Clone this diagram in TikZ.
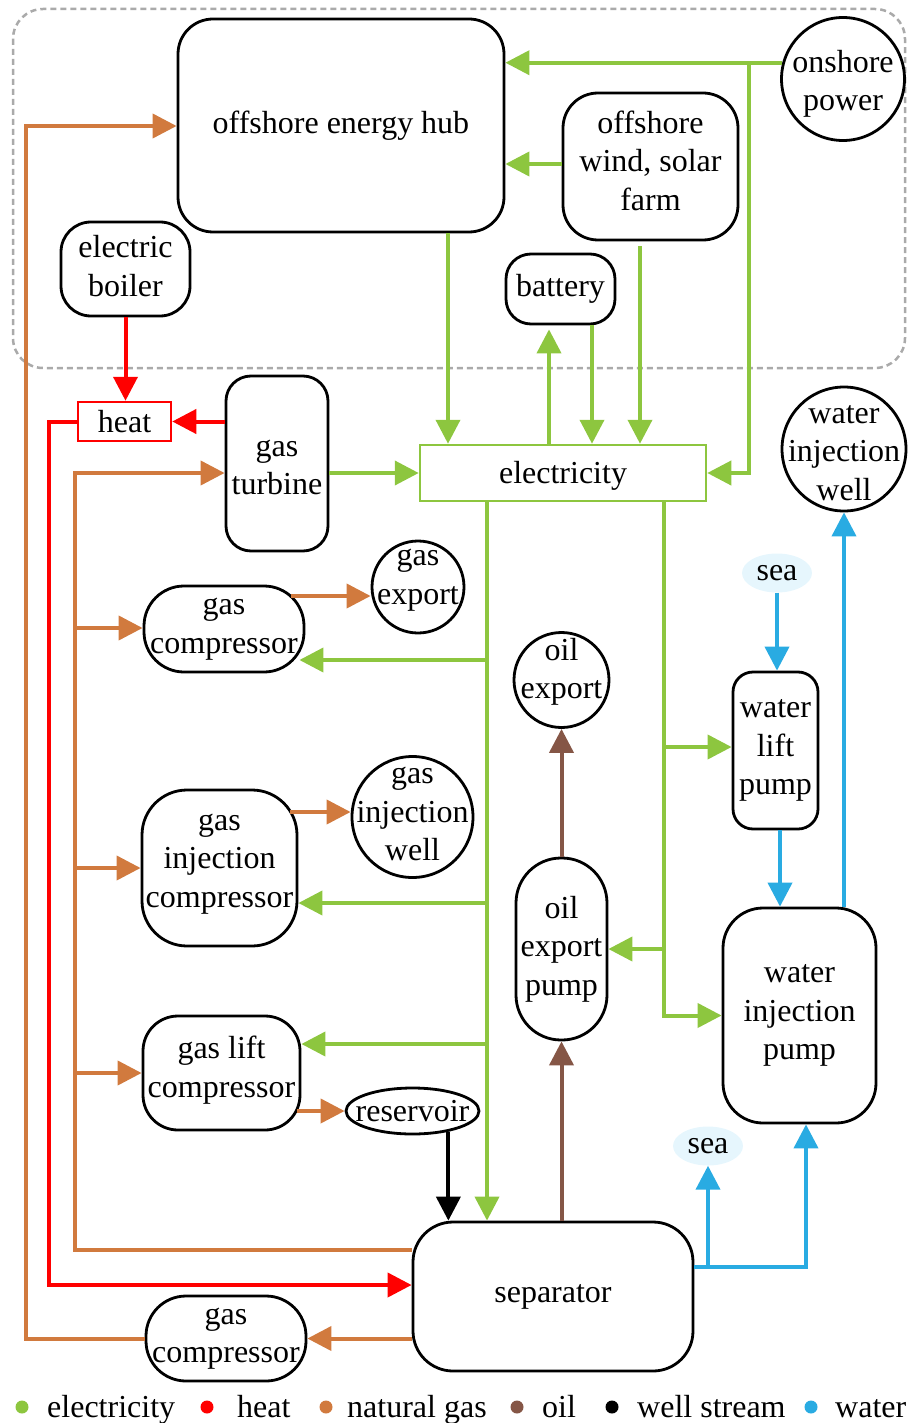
\documentclass[tikz,border=0pt]{standalone}
\usepackage{fontspec}
\setmainfont{Liberation Serif}
\usetikzlibrary{arrows.meta,shapes.geometric,calc}
\definecolor{cel}{RGB}{141,198,63}
\definecolor{cht}{RGB}{255,0,0}
\definecolor{cng}{RGB}{209,122,62}
\definecolor{coil}{RGB}{133,86,70}
\definecolor{cwt}{RGB}{41,171,226}
\definecolor{csea}{RGB}{230,246,253}
\definecolor{cdash}{RGB}{170,170,170}
\newcommand\diagfont{\fontsize{32}{38.4}\selectfont}
\tikzset{
  flow/.style={line width=4pt, -{Triangle[length=24pt,width=24pt]}, line join=miter},
  el/.style={flow, draw=cel},
  ht/.style={flow, draw=cht},
  ng/.style={flow, draw=cng},
  oilf/.style={flow, draw=coil},
  wsf/.style={flow, draw=black},
  wt/.style={flow, draw=cwt},
  box/.style={draw, line width=2.8pt, align=center, inner sep=0pt, font=\diagfont, fill=white},
  rb/.style={box, rectangle, rounded corners=#1},
  rb/.default=30pt,
  circ/.style={box, circle},
  lab/.style={align=center, inner sep=0pt, font=\diagfont},
  seanode/.style={ellipse, fill=csea, inner sep=0pt, font=\diagfont, minimum width=70pt, minimum height=39pt},
  legtext/.style={anchor=base west, inner sep=0pt, font=\diagfont}
}
\begin{document}
\begin{tikzpicture}[x=1pt,y=-1pt]
\useasboundingbox (0,0) rectangle (907,1423);
\draw[cdash, line width=2.5pt, dash pattern=on 6pt off 4pt, rounded corners=30pt] (13,9) rectangle (905,368);

% nodes
\node[rb=35pt, minimum width=326pt, minimum height=213pt] (hub) at (341,125.5) {offshore energy hub};
\node[circ, minimum size=123pt, label={[lab,yshift=-5pt]center:onshore\\power}] (onshore) at (843,79) {};
\node[rb=35pt, minimum width=175pt, minimum height=147pt, label={[lab,yshift=6pt]center:offshore\\wind, solar\\farm}] (farm) at (650.5,166.5) {};
\node[rb=25pt, minimum width=109pt, minimum height=70pt] (battery) at (560.5,289) {battery};
\node[rb=30pt, minimum width=129pt, minimum height=94pt, label={[lab,yshift=3pt]center:electric\\boiler}] (boiler) at (125.5,269) {};
\node[box, draw=cht, line width=2.5pt, minimum width=93pt, minimum height=39pt] (heat) at (124.5,421.5) {heat};
\node[rb=25pt, minimum width=102pt, minimum height=175pt, label={[lab,yshift=-4pt]center:gas\\turbine}] (turbine) at (277,463.5) {};
\node[box, draw=cel, line width=2.5pt, minimum width=286pt, minimum height=56pt, label={[lab,yshift=-3pt]center:electricity}] (elec) at (563,473) {};
\node[circ, minimum size=124pt, label={[lab,yshift=-4pt]center:water\\injection\\well}] (wiw) at (844,449) {};
\node[circ, minimum size=92pt, label={[lab,yshift=7pt]center:gas\\export}] (gexp) at (418,587) {};
\node[rb=40pt, minimum width=160pt, minimum height=86pt] (gc1) at (224,629) {gas\\compressor};
\node[circ, minimum size=95pt, label={[lab,yshift=8pt]center:oil\\export}] (oexp) at (561.5,680) {};
\node[seanode] (sea1) at (777,573) {sea};
\node[rb=20pt, minimum width=85pt, minimum height=157pt] (wlp) at (775.5,750.5) {water\\lift\\pump};
\node[circ, minimum size=121pt, label={[lab,yshift=3pt]center:gas\\injection\\well}] (giw) at (412.5,817) {};
\node[rb=45pt, minimum width=155pt, minimum height=156pt, label={[lab,yshift=4pt]center:gas\\injection\\compressor}] (gic) at (219.5,868) {};
\node[rb=45pt, minimum width=91pt, minimum height=182pt] (oep) at (561.5,949) {oil\\export\\pump};
\node[rb=40pt, minimum width=153pt, minimum height=215pt] (wip) at (799.5,1015.5) {water\\injection\\pump};
\node[rb=35pt, minimum width=157pt, minimum height=114pt, label={[lab,yshift=3pt]center:gas lift\\compressor}] (glc) at (221.5,1073) {};
\node[box, ellipse, minimum width=133pt, minimum height=46pt, label={[lab]center:reservoir}] (res) at (412.5,1111) {};
\node[seanode] (sea2) at (708,1146) {sea};
\node[rb=40pt, minimum width=280pt, minimum height=149pt] (sep) at (553,1296.5) {separator};
\node[rb=40pt, minimum width=160pt, minimum height=85pt] (gc2) at (226,1338.5) {gas\\compressor};

% electricity
\draw[el] (onshore.165) -- (onshore.165 -| hub.east);
\draw[el] (749,0 |- onshore.165) -- (749,0 |- elec.east) -- (elec.east);
\draw[el] (farm.west |- 0,164) -- (hub.east |- 0,164);
\draw[el] (448,0 |- hub.south) -- (448,0 |- elec.north);
\draw[el] (549,0 |- elec.north) -- ($(549,0 |- battery.south)+(0,4)$);
\draw[el] (592,0 |- battery.south) -- (592,0 |- elec.north);
\draw[el] ($(640,0 |- farm.south)+(0,5)$) -- (640,0 |- elec.north);
\draw[el] (turbine.east |- elec.west) -- (elec.west);
\draw[el] (487,0 |- elec.south) -- (487,0 |- sep.north);
\draw[el] (487,660) -- ($(gc1.east |- 0,660)+(-6,0)$);
\draw[el] (487,903) -- (gic.east |- 0,903);
\draw[el] (487,1044) -- (glc.east |- 0,1044);
\draw[el] (664,0 |- elec.south) -- (664,0 |- wip.west) -- (wip.west);
\draw[el] (664,747) -- (wlp.west |- 0,747);
\draw[el] (664,0 |- oep.east) -- (oep.east);

% heat
\draw[ht] (boiler.south) -- (boiler.south |- heat.north);
\draw[ht] (turbine.west |- heat.east) -- (heat.east);
\draw[ht] (heat.west) -- (49,0 |- heat.west) -- (49,1285) -- (sep.west |- 0,1285);

% natural gas
\draw[ng] (gc2.west) -- (26,0 |- gc2.west) -- (26,126) -- (hub.west |- 0,126);
\draw[ng] (sep.west |- gc2.east) -- (gc2.east);
\draw[ng] (sep.west |- 0,1250) -- (75,1250) -- (75,473) -- (turbine.west |- 0,473);
\draw[ng] (75,628) -- (gc1.west |- 0,628);
\draw[ng] (75,0 |- gic.west) -- (gic.west);
\draw[ng] (75,0 |- glc.west) -- (glc.west);
\draw[ng] ($(gc1.east |- 0,596)+(-14,0)$) -- (gexp.west |- 0,596);
\draw[ng] ($(gic.east |- 0,812)+(-8,0)$) -- (giw.west |- 0,812);
\draw[ng] ($(glc.east |- res.west)+(-4,0)$) -- (res.west);

% oil
\draw[oilf] (sep.north -| oep.south) -- (oep.south);
\draw[oilf] (oep.north) -- (oexp.south);

% well stream
\draw[wsf] (res.-30) -- (res.-30 |- sep.north);

% water
\draw[wt] (sea1.south) -- (sea1.south |- wlp.north);
\draw[wt] (780,0 |- wlp.south) -- (780,0 |- wip.north);
\draw[wt] (wip.north -| wiw.south) -- (wiw.south);
\draw[wt] (sep.east |- 0,1267) -- (806,1267) -- (806,0 |- wip.south);
\draw[wt] (sea2.south |- 0,1267) -- (sea2.south);

% legend
\fill[cel] (22,1407) circle (6.5pt);
\node[legtext] (lg1) at (47,1417) {electricity};
\fill[cht] (207,1407) circle (6.5pt);
\node[legtext] (lg2) at (237,1417) {heat};
\fill[cng] (326,1407) circle (6.5pt);
\node[legtext] (lg3) at (347,1417) {natural gas};
\fill[coil] (517,1407) circle (6.5pt);
\node[legtext] (lg4) at (542,1417) {oil};
\fill[black] (612,1407) circle (6.5pt);
\node[legtext] (lg5) at (637,1417) {well stream};
\fill[cwt] (811,1407) circle (6.5pt);
\node[legtext] (lg6) at (835,1417) {water};
\end{tikzpicture}
\end{document}
